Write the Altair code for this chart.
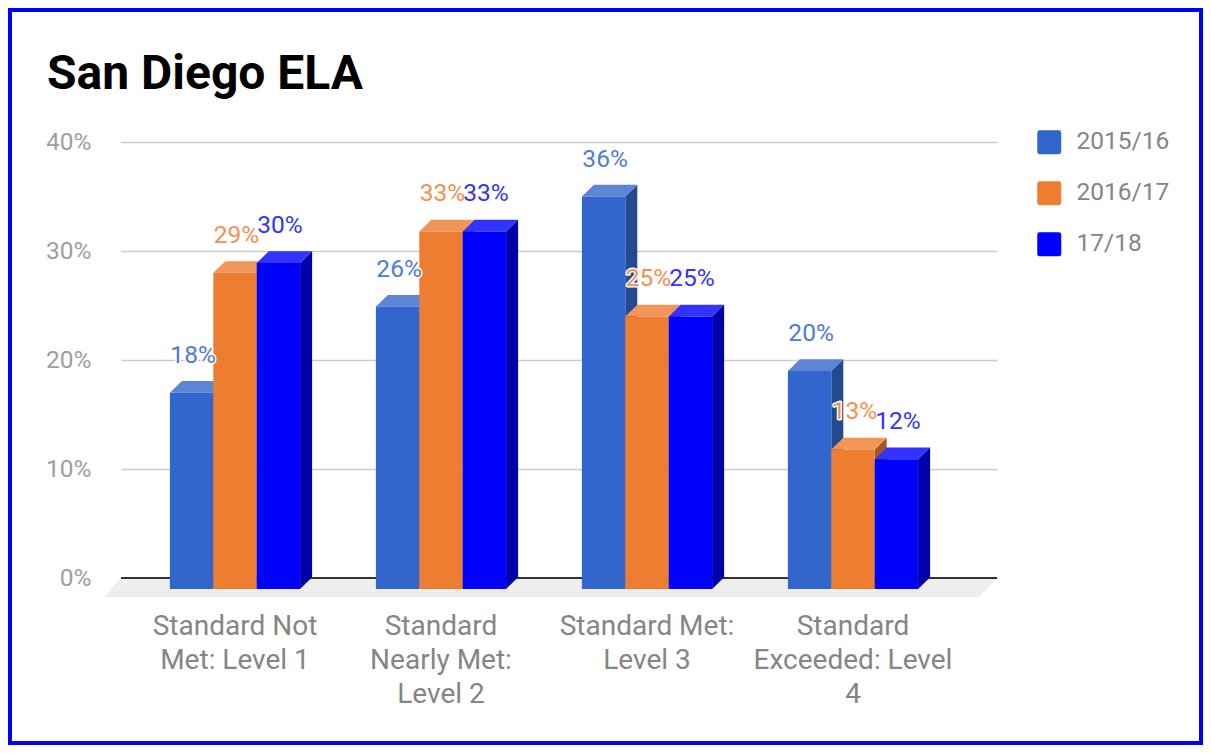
import altair as alt
import pandas as pd

CATEGORIES = ["Standard Not\nMet: Level 1", "Standard\nNearly Met:\nLevel 2",
              "Standard Met:\nLevel 3", "Standard\nExceeded: Level\n4"]
SERIES = ["2015/16", "2016/17", "17/18"]
VALUES = {
    "2015/16": [18, 25.9, 36, 20],
    "2016/17": [29, 32.8, 25, 12.8],
    "17/18": [29.9, 32.8, 25, 11.9],
}
FRONT = {"2015/16": "#3366CC", "2016/17": "#ED7D31", "17/18": "#0000FF"}
TOP = {"2015/16": "#5C85D6", "2016/17": "#F19658", "17/18": "#3333FF"}
SIDE = {"2015/16": "#234A8F", "2016/17": "#A55722", "17/18": "#0000A8"}
LABEL = {"2015/16": "#4F7BD9", "2016/17": "#F58F4E", "17/18": "#3333FF"}
TICKS = [0, 10, 20, 30, 40]

BAR_W = 43.4 / 206   # bar width in category steps
DX = 12 / 206        # depth in category steps
DY = 1.07            # depth in percentage points
BASE = -1.0          # front plane baseline
FONT = "Roboto"
ROUNDED = "M-1,-0.8Q-1,-1,-0.8,-1L0.8,-1Q1,-1,1,-0.8L1,0.8Q1,1,0.8,1L-0.8,1Q-1,1,-1,0.8Z"
xs = alt.Scale(domain=[-114 / 206, 762 / 206], nice=False, zero=False)
ys = alt.Scale(domain=[0, 40], nice=False, zero=False)
X = lambda f: alt.X(f, type="quantitative", scale=xs, axis=None)
Y = lambda f: alt.Y(f, type="quantitative", scale=ys)

front, sides, tops = [], [], []
for j, s in enumerate(SERIES):
    for i, v in enumerate(VALUES[s]):
        x0 = i + (j - 1.5) * BAR_W
        x1 = x0 + BAR_W
        key = f"{s}-{i}"
        top = v + BASE
        front.append(dict(series=s, x=x0, x2=x1, y=BASE, y2=top, cx=(x0 + x1) / 2, label=f"{round(v)}%"))
        sides += [dict(series=s, k=key, x=x1, y=top, y2=BASE),
                  dict(series=s, k=key, x=x1 + DX, y=top + DY, y2=BASE + DY)]
        tops += [dict(series=s, k=key, y=top, x=x0, x2=x1),
                 dict(series=s, k=key, y=top + DY, x=x0 + DX, x2=x1 + DX)]
front, sides, tops = map(pd.DataFrame, (front, sides, tops))

floor = alt.Chart(pd.DataFrame([
    dict(y=-1.74, x=-131 / 206, x2=744 / 206),
    dict(y=0, x=-114 / 206, x2=762 / 206),
])).mark_area(orient="horizontal", color="#EEEEEE").encode(
    x=X("x"), x2="x2", y=Y("y").axis(
        values=TICKS, labelExpr="datum.value + '%'", title=None, ticks=False, domain=False,
        grid=True, gridColor="#CCCCCC", gridWidth=1.3, labelColor="#9E9E9E",
        labelFont=FONT, labelFontSize=24.5, labelPadding=30),
)
baseline = alt.Chart(pd.DataFrame(dict(y=[0]))).mark_rule(color="#333333", strokeWidth=2).encode(y=Y("y"))

layers = [floor, baseline]
for s in SERIES:
    layers.append(alt.Chart(sides[sides.series == s]).mark_area(color=SIDE[s]).encode(
        x=X("x"), y=Y("y"), y2="y2", detail="k:N"))
for s in SERIES:
    layers.append(alt.Chart(tops[tops.series == s]).mark_area(orient="horizontal", color=TOP[s]).encode(
        x=X("x"), x2="x2", y=Y("y"), detail="k:N"))
layers.append(alt.Chart(front).mark_rect().encode(
    x=X("x"), x2="x2", y=Y("y"), y2="y2",
    color=alt.Color("series:N",
                    scale=alt.Scale(domain=SERIES, range=[FRONT[s] for s in SERIES]),
                    legend=alt.Legend(title=None, orient="none", legendX=916, legendY=-12,
                                      symbolType=ROUNDED, symbolSize=576, symbolStrokeWidth=0,
                                      symbolOpacity=1, labelFont=FONT, labelFontSize=24.5,
                                      labelColor="#858585", labelOffset=15, rowPadding=25,
                                      padding=0)),
))
for s in SERIES:
    d = front[front.series == s]
    layers.append(alt.Chart(d).mark_text(
        font=FONT, fontSize=24.5, baseline="middle", dx=1.5, dy=-37, stroke="white", strokeWidth=3,
        strokeJoin="round", fill="white").encode(x=X("cx"), y=Y("y2"), text="label:N"))
for s in SERIES:
    d = front[front.series == s]
    layers.append(alt.Chart(d).mark_text(
        font=FONT, fontSize=24.5, baseline="middle", dx=1.5, dy=-37, color=LABEL[s]).encode(
        x=X("cx"), y=Y("y2"), text="label:N"))
layers.append(alt.Chart(pd.DataFrame(dict(x=list(range(4)), y=[-3.2] * 4, t=CATEGORIES))).mark_text(
    font=FONT, fontSize=28, color="#858585", baseline="top", lineBreak="\n", lineHeight=34).encode(
    x=X("x"), y=Y("y"), text="t:N"))
layers.append(alt.Chart(pd.DataFrame(dict(a=[0]))).mark_rect(
    filled=False, stroke="#0000FF", strokeWidth=4).encode(
    x=alt.value(-111), x2=alt.value(1080), y=alt.value(-132), y2=alt.value(601)))

chart = alt.layer(*layers).properties(
    width=876, height=436,
    autosize=alt.AutoSizeParams(type="none"),
    padding={"left": 113, "top": 134, "right": 206, "bottom": 167},
    background="white",
    title=alt.TitleParams("San Diego ELA", anchor="start", frame="group", dx=-74, offset=-91,
                          font=FONT, fontSize=48, fontWeight="bold", color="#000000"),
).configure_view(stroke=None)

chart.save("out.html", embed_options={"renderer": "svg", "actions": False})
